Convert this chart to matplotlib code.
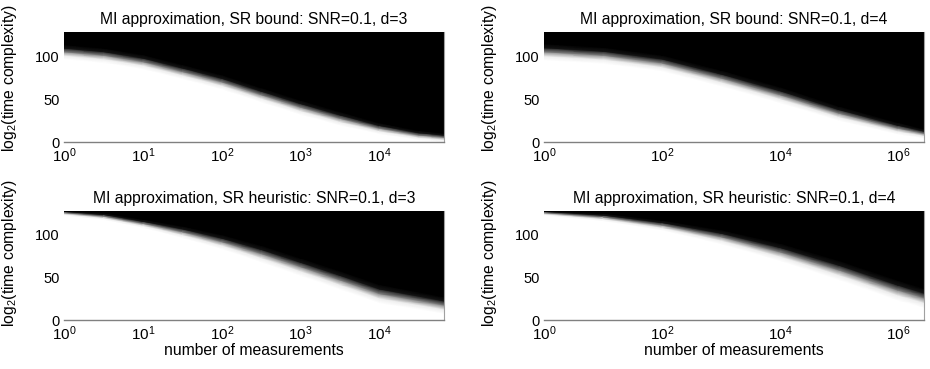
import numpy as np
import matplotlib
matplotlib.use("Agg")
import matplotlib.pyplot as plt
from matplotlib.ticker import FixedLocator, NullLocator

plt.rcParams['font.family'] = ['Liberation Sans', 'DejaVu Sans']
plt.rcParams['mathtext.fontset'] = 'custom'
plt.rcParams['mathtext.rm'] = 'Liberation Sans'
plt.rcParams['mathtext.it'] = 'Liberation Sans:italic'
plt.rcParams['mathtext.bf'] = 'Liberation Sans:bold'

titles = [
    "MI approximation, SR bound: SNR=0.1, d=3",
    "MI approximation, SR bound: SNR=0.1, d=4",
    "MI approximation, SR heuristic: SNR=0.1, d=3",
    "MI approximation, SR heuristic: SNR=0.1, d=4",
]
xlabel_text = "number of measurements"
ylabel_text = "log$_2$(time complexity)"
y_max = 128
x_max = [65536, 2.75e6, 65536, 2.75e6]
x_ticks = [[1, 10, 100, 1e3, 1e4], [1, 1e2, 1e4, 1e6],
           [1, 10, 100, 1e3, 1e4], [1, 1e2, 1e4, 1e6]]
y_ticks = [0, 50, 100]

# middle of the grey transition (log2 time complexity) and its full width,
# read from the picture at these numbers of measurements
p1_x = [1, 3.16, 10, 31.6, 100, 316, 1e3, 3162, 1e4, 31623, 65536]
p1_mid = [105, 101, 93.5, 82, 70, 55, 40.5, 27.5, 16, 8, 5.5]
p1_width = [17, 17, 17, 17, 17, 17, 17, 16, 13, 11, 10]

p2_x = [1, 10, 100, 1e3, 1e4, 1e5, 1e6, 2.75e6]
p2_mid = [105, 101, 92, 74.5, 55, 33.5, 16, 10]
p2_width = [19, 19, 19, 19, 19, 17, 14, 11]

p3_x = [1, 3.16, 10, 31.6, 100, 316, 1e3, 3162, 1e4, 65536]
p3_mid = [126, 122, 113.5, 103.6, 92, 78, 62.6, 47, 31, 17.6]
p3_width = [6, 8, 10, 14, 17, 20, 21, 22, 22, 20]

p4_x = [1, 10, 100, 1e3, 1e4, 1e5, 1e6, 2.75e6]
p4_mid = [126, 121, 111.5, 97.8, 80, 58.7, 35, 26]
p4_width = [6, 9, 12, 17, 21, 23, 24, 23]

panels = [(p1_x, p1_mid, p1_width), (p2_x, p2_mid, p2_width),
          (p3_x, p3_mid, p3_width), (p4_x, p4_mid, p4_width)]

# shape of the soft edge across the band (fraction of width, grey level)
edge_pos = [-0.5, -0.25, 0.0, 0.25, 0.5]
edge_val = [1.0, 0.92, 0.5, 0.08, 0.0]

W, H = 930, 369
fig = plt.figure(figsize=(W / 100, H / 100), dpi=100)

boxes = [(64, 32, 444, 142), (544, 32, 924, 142),
         (64, 211, 444, 320), (544, 211, 924, 320)]
ylabel_y = [0.58, 0.58, 0.61, 0.61]

for i, (ax_box, (px, mid, wid)) in enumerate(zip(boxes, panels)):
    l, t, r, b = ax_box
    ax = fig.add_axes([l / W, 1 - b / H, (r - l) / W, (b - t) / H])
    ax.set_xscale('log')
    px = np.asarray(px, float)
    mid = np.asarray(mid, float)
    wid = np.asarray(wid, float)
    n = len(px)
    rows_y = [np.zeros(n)] + [mid + f * wid for f in edge_pos] + [np.full(n, y_max)]
    rows_c = [np.ones(n)] + [np.full(n, v) for v in edge_val] + [np.zeros(n)]
    Y = np.clip(np.vstack(rows_y), 0, y_max)
    X = np.vstack([px] * len(rows_y))
    C = np.vstack(rows_c)
    ax.pcolormesh(X, Y, C, shading='gouraud', cmap='gray', vmin=0, vmax=1,
                  rasterized=True)
    ax.set_xlim(1, x_max[i])
    ax.set_ylim(0, y_max)
    ax.xaxis.set_major_locator(FixedLocator(x_ticks[i]))
    ax.xaxis.set_minor_locator(NullLocator())
    ax.set_yticks(y_ticks)
    ax.tick_params(length=0, labelsize=10.5, colors='black')
    ax.tick_params(axis='y', pad=3)
    ax.tick_params(axis='x', pad=3.5, labelsize=11)
    for lab in ax.get_yticklabels():
        lab.set_verticalalignment('center_baseline')
    for s in ['left', 'top']:
        ax.spines[s].set_visible(False)
    ax.spines['bottom'].set_color('#808080')
    ax.spines['bottom'].set_linewidth(1.0)
    ax.spines['right'].set_color('#a0a0a0')
    ax.spines['right'].set_linestyle((0, (1, 1)))
    ax.spines['right'].set_linewidth(0.8)
    ax.set_title(titles[i], fontsize=11.3, pad=6)
    ax.set_ylabel(ylabel_text, fontsize=11.3)
    ax.yaxis.set_label_coords(-45 / (r - l), ylabel_y[i])
    if i >= 2:
        ax.set_xlabel(xlabel_text, fontsize=11.3, labelpad=0)

fig.savefig("out.png", dpi=100)
